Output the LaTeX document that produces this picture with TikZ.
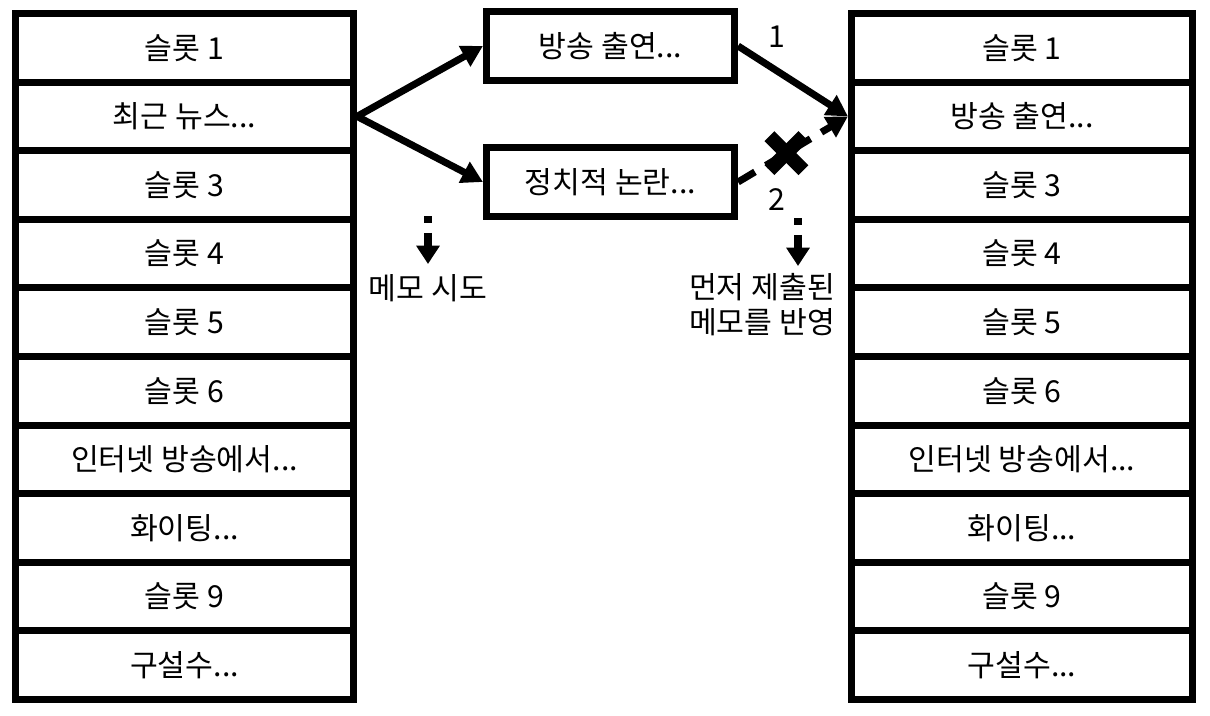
\documentclass[tikz,border=0pt]{standalone}
\usepackage{fontspec}
\setmainfont{Noto Sans CJK KR}
\usetikzlibrary{arrows.meta,calc}
\newcommand{\trail}{...}

\begin{document}
\begin{tikzpicture}[x=0.025cm, y=-0.025cm,
    slot/.style={draw, line width=5pt, minimum width=8.45cm, minimum height=1.715cm, inner sep=0pt, align=center, font=\fontsize{21.5}{25}\selectfont},
    pick/.style={draw, line width=5pt, minimum width=6.2cm, minimum height=1.725cm, inner sep=0pt, align=center, font=\fontsize{21.5}{25}\selectfont},
    arr/.style={-{Triangle[length=15pt, width=16pt]}, line width=5pt},
    darr/.style={arr, dash pattern=on 14pt off 9pt},
    marr/.style={-{Triangle[length=13pt, width=16pt]}, line width=5pt, dash pattern=on 5pt off 7pt on 30pt},
    lbl/.style={font=\fontsize{21.5}{25}\selectfont, inner sep=1pt, align=center}
]
\useasboundingbox (0,0) rectangle (1210,716);

% Liste vor / nach
\foreach \i/\t in {1/슬롯 1, 2/최근 뉴스\trail, 3/슬롯 3, 4/슬롯 4, 5/슬롯 5, 6/슬롯 6, 7/인터넷 방송에서\trail, 8/화이팅\trail, 9/슬롯 9, 10/구설수\trail}
    \node[slot] (L\i) at (184.5, {47.8+68.6*(\i-1)}) {\t};
\foreach \i/\t in {1/슬롯 1, 2/방송 출연\trail, 3/슬롯 3, 4/슬롯 4, 5/슬롯 5, 6/슬롯 6, 7/인터넷 방송에서\trail, 8/화이팅\trail, 9/슬롯 9, 10/구설수\trail}
    \node[slot, minimum width=8.525cm] (R\i) at (1022, {47.8+68.6*(\i-1)}) {\t};

\node[pick] (P1) at (610.5,46) {방송 출연...};
\node[pick] (P2) at (610.5,182) {정치적 논란...};

\node[lbl] (n1) at (777,37) {1};
\node[lbl] (n2) at (777,200) {2};
\node[lbl] (memo1) at (428,288) {메모 시도};
\node[lbl] (memo2) at (762,305) {먼저 제출된\\메모를 반영};

\coordinate (a1) at (428,216);
\coordinate (b1) at (428,264);
\coordinate (a2) at (798,218);
\coordinate (b2) at (798,266);

\draw[arr] (L2.east) -- (P1.west);
\draw[arr] (L2.east) -- (P2.west);
\draw[arr] (P1.east) -- (R2.west);
\draw[darr] (P2.east) -- (R2.west);
\draw[marr] (a1) -- (b1);
\draw[marr] (a2) -- (b2);

% Kreuz
\coordinate (cut) at ($(P2.east)!0.44!(R2.west)$);
\draw[line width=10pt] ($(cut)+(-17,-17)$) -- ($(cut)+(17,17)$);
\draw[line width=10pt] ($(cut)+(-17,17)$) -- ($(cut)+(17,-17)$);
\end{tikzpicture}
\end{document}
